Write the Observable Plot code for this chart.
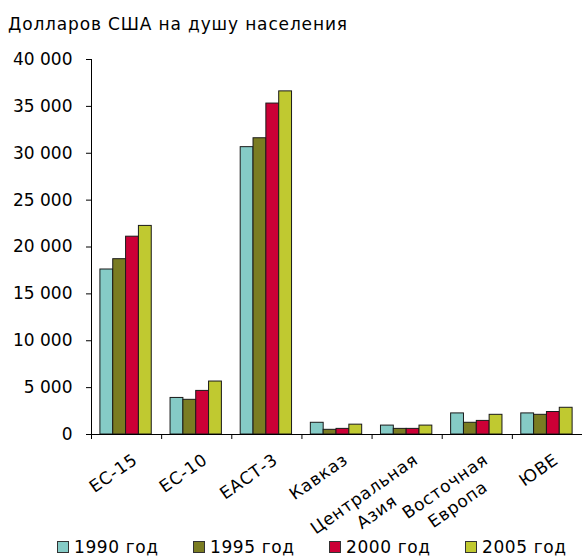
<!DOCTYPE html>
<html><head><meta charset="utf-8">
<script src="https://cdn.jsdelivr.net/npm/d3@7"></script>
<script src="https://cdn.jsdelivr.net/npm/@observablehq/plot@0.6"></script>
<style>
body{margin:0;background:#fff;font-family:"DejaVu Sans",sans-serif;color:#000;}
#title{font-size:17px;line-height:20px;height:38px;box-sizing:border-box;padding:14px 0 0 8px;white-space:nowrap;letter-spacing:0.85px;}
#chart svg{display:block;}
#legend{margin-top:-1px;font-size:17px;line-height:20px;padding-left:57px;white-space:nowrap;letter-spacing:0.6px;}
#legend .item{display:inline-block;width:136px;}
#legend .sw{display:inline-block;width:12px;height:12px;box-sizing:border-box;border:1px solid #333;margin-right:5px;vertical-align:baseline;}
</style></head><body>
<div id="title">Долларов США на душу населения</div>
<div id="chart"></div>
<div id="legend"></div>
<script>
const regions = ["ЕС-15", "ЕС-10", "ЕАСТ-3", "Кавказ", "Центральная\nАзия", "Восточная\nЕвропа", "ЮВЕ"];
const years = ["1990 год", "1995 год", "2000 год", "2005 год"];
const v1990 = [17600, 3900, 30650, 1250, 950, 2250, 2250];
const v1995 = [18700, 3700, 31600, 500, 600, 1250, 2100];
const v2000 = [21100, 4650, 35300, 600, 600, 1450, 2400];
const v2005 = [22250, 5650, 36600, 1050, 950, 2100, 2850];
const yTicks = [0, 5000, 10000, 15000, 20000, 25000, 30000, 35000, 40000];
const colors = ["#85cbc6", "#7a7c22", "#cc0036", "#c0c930"];

const series = [v1990, v1995, v2000, v2005];
const data = regions.flatMap((r, i) => years.map((y, j) => ({region: r, i, year: y, j, value: series[j][i]})));

const pad = 0.127, bw = 0.183;
const fmt = d3.formatLocale({thousands: " ", grouping: [3], decimal: ","}).format(",d");

const chart = Plot.plot({
  width: 582, height: 500,
  marginLeft: 91, marginRight: 0, marginTop: 21, marginBottom: 104,
  style: {fontFamily: "DejaVu Sans", fontSize: "17px", color: "#000", background: "#fff", overflow: "visible"},
  x: {domain: [0, regions.length]},
  y: {domain: [0, 40000]},
  color: {domain: years, range: colors},
  marks: [
    Plot.rect(data, {
      x1: d => d.i + pad + d.j * bw,
      x2: d => d.i + pad + (d.j + 1) * bw,
      y1: () => 0, y2: "value",
      fill: "year", stroke: "#1a1a1a", strokeWidth: 1
    }),
    Plot.axisY({ticks: yTicks, tickSize: 5, tickPadding: 14, tickFormat: fmt, label: null}),
    Plot.axisX({ticks: d3.range(0, regions.length + 1), tickSize: 5, tickFormat: () => "", label: null}),
    Plot.ruleX([0], {stroke: "#000"}),
    Plot.ruleY([0], {stroke: "#000"}),
    Plot.text(regions, {
      x: (d, i) => i + 0.5, frameAnchor: "bottom", text: d => d,
      rotate: -35, textAnchor: "middle", lineAnchor: "top", lineHeight: 1.3, dx: 3, dy: 15, fill: "#000"
    })
  ]
});
document.getElementById("chart").appendChild(chart);
// center-align each label's lines while keeping the longest line ending at the anchor
d3.select(chart).selectAll("g[aria-label='text'] text").each(function() {
  const t = d3.select(this).style("letter-spacing", "0.7px");
  const spans = t.selectAll("tspan");
  if (spans.size()) {
    let w = 0;
    spans.each(function() { w = Math.max(w, this.getComputedTextLength()); });
    spans.attr("x", -w / 2);
  } else {
    t.attr("x", -this.getComputedTextLength() / 2);
  }
});

const legend = document.getElementById("legend");
years.forEach((y, j) => {
  const item = document.createElement("span");
  item.className = "item";
  const sw = document.createElement("span");
  sw.className = "sw";
  sw.style.background = colors[j];
  item.appendChild(sw);
  item.appendChild(document.createTextNode(y));
  legend.appendChild(item);
});
</script>
</body></html>
